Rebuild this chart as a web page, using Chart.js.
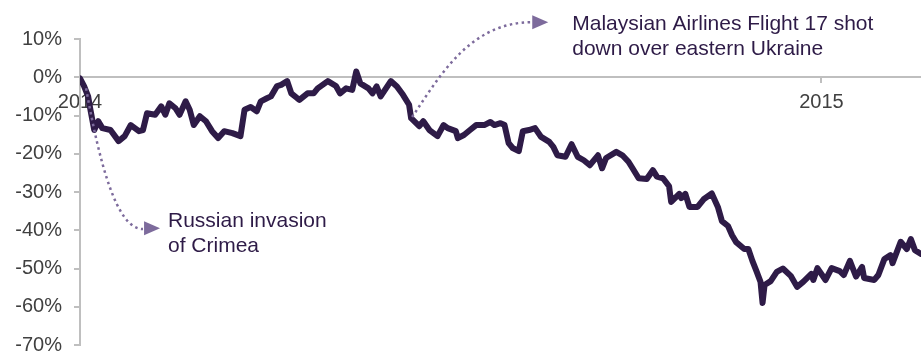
<!DOCTYPE html>
<html>
<head>
<meta charset="utf-8">
<script src="https://cdn.jsdelivr.net/npm/chart.js@4.4.1/dist/chart.umd.min.js"></script>
<style>
  html, body { margin: 0; padding: 0; background: #fff; }
  #wrap { width: 921px; height: 354px; }
</style>
</head>
<body>
<div id="wrap"><canvas id="chart1"></canvas></div>
<script>
'use strict';

// days since 1 Jan 2014, and change in %
const days = [0, 2, 4, 5, 7, 9, 11, 15, 19, 22, 25, 29, 31, 33, 37, 40, 42, 44, 47, 49,
  52, 54, 56, 59, 62, 65, 68, 71, 75, 79, 81, 84, 87, 89, 92, 94, 97, 99, 102, 104,
  107, 108, 112, 115, 117, 122, 126, 128, 131, 134, 136, 138, 142, 144, 146, 148, 153, 156, 159, 162,
  163, 167, 169, 172, 176, 179, 181, 185, 186, 189, 192, 195, 199, 202, 204, 207, 209, 211, 213, 216,
  218, 221, 224, 227, 231, 233, 235, 239, 242, 245, 248, 251, 255, 257, 259, 264, 267, 270, 272, 275,
  279, 282, 284, 287, 290, 291, 295, 296, 298, 300, 304, 307, 311, 314, 316, 319, 321, 323, 327, 329,
  331, 333, 335, 336, 337, 340, 343, 346, 350, 353, 356, 360, 361, 363, 367, 370, 374, 376, 379, 382,
  385, 386, 391, 393, 396, 399, 400, 404, 407, 409, 411, 414];
const change = [-0.3, -2.3, -5.0, -8.1, -13.8, -11.5, -13.3, -13.8, -16.7, -15.4, -12.5, -14.1, -13.8, -9.4, -9.8, -7.6, -9.8, -6.8, -8.1, -9.8,
  -6.3, -8.5, -12.5, -10.2, -11.5, -14.1, -15.9, -14.1, -14.6, -15.4, -8.5, -7.8, -8.9, -6.3, -5.5, -5.0, -2.3, -2.0, -1.0, -4.2,
  -5.5, -5.9, -4.2, -4.2, -2.9, -1.0, -2.3, -4.2, -2.9, -3.3, 1.5, -1.6, -2.9, -4.2, -2.4, -5.0, -1.0, -2.4, -4.6, -7.2,
  -10.7, -12.8, -11.5, -13.8, -15.4, -12.5, -13.3, -14.1, -15.9, -15.1, -13.8, -12.5, -12.5, -11.7, -12.5, -12.0, -12.5, -17.2, -18.5, -19.3,
  -14.1, -13.8, -13.3, -15.6, -16.9, -18.2, -20.4, -20.8, -17.5, -20.8, -21.7, -23.0, -20.4, -23.8, -21.1, -19.5, -20.4, -22.1, -23.8, -26.4,
  -26.6, -24.3, -26.0, -26.4, -28.5, -32.6, -30.5, -31.6, -30.5, -33.9, -33.9, -31.9, -30.4, -33.9, -37.6, -38.9, -41.3, -43.1, -44.9, -44.9,
  -48.0, -50.7, -53.5, -59.0, -54.3, -53.3, -50.9, -50.0, -52.0, -54.8, -53.5, -51.4, -53.0, -49.9, -53.0, -49.9, -50.7, -51.7, -48.0, -52.1,
  -49.6, -52.5, -53.0, -51.7, -47.5, -46.5, -48.6, -43.0, -44.9, -42.3, -45.2, -46.2];

const xTickValues = [0, 365];
const xTickLabels = ['2014', '2015'];

// annotation text and dotted arrows, in data units (day, %)
const notes = [
  { lines: ['Russian invasion', 'of Crimea'], at: [43.3, -39.2],
    curve: [[3.0, -2.9], [9.4, -21.7], [17.7, -39.7], [31.0, -39.7]], tip: [39.4, -39.5] },
  { lines: ['Malaysian Airlines Flight 17 shot', 'down over eastern Ukraine'], at: [242.3, 12.3],
    curve: [[163.5, -10.4], [177.3, 0.5], [192.1, 14.4], [222.6, 14.4]], tip: [230.5, 14.4] }
];

const lineColor = '#2e1b47';
const arrowColor = '#7d6b9c';
const axisColor = '#bfbfbf';
const fontFamily = '"Liberation Sans", Arial, sans-serif';

const annotationPlugin = {
  id: 'annotations',
  afterDatasetsDraw(chart) {
    const ctx = chart.ctx;
    const xs = chart.scales.x, ys = chart.scales.y;
    const px = p => [xs.getPixelForValue(p[0]), ys.getPixelForValue(p[1])];
    ctx.save();
    for (const n of notes) {
      const c = n.curve.map(px);
      ctx.strokeStyle = arrowColor;
      ctx.lineWidth = 2.5;
      ctx.setLineDash([2.5, 3.5]);
      ctx.beginPath();
      ctx.moveTo(c[0][0], c[0][1]);
      ctx.bezierCurveTo(c[1][0], c[1][1], c[2][0], c[2][1], c[3][0], c[3][1]);
      ctx.stroke();
      ctx.setLineDash([]);
      const t = px(n.tip);
      ctx.fillStyle = arrowColor;
      ctx.beginPath();
      ctx.moveTo(t[0], t[1]);
      ctx.lineTo(t[0] - 16, t[1] - 7);
      ctx.lineTo(t[0] - 16, t[1] + 7);
      ctx.closePath();
      ctx.fill();

      const a = px(n.at);
      ctx.fillStyle = lineColor;
      ctx.font = '21px ' + fontFamily;
      ctx.textAlign = 'left';
      ctx.textBaseline = 'alphabetic';
      n.lines.forEach((s, i) => ctx.fillText(s, a[0], a[1] + i * 25));
    }
    ctx.restore();
  }
};

let ctx1 = document.getElementById('chart1').getContext('2d');

new Chart(ctx1, {
  type: 'line',
  data: {
    datasets: [{
      data: days.map((d, i) => ({ x: d, y: change[i] })),
      borderColor: lineColor,
      borderWidth: 6,
      borderJoinStyle: 'round',
      borderCapStyle: 'round',
      pointRadius: 0,
      tension: 0,
      fill: false
    }]
  },
  options: {
    responsive: true,
    maintainAspectRatio: false,
    animation: false,
    events: [],
    layout: { padding: { top: 39, bottom: 9, left: 0, right: 0 } },
    plugins: { legend: { display: false }, tooltip: { enabled: false } },
    scales: {
      x: {
        type: 'linear',
        position: { y: 0 },
        min: 0,
        max: 414,
        afterBuildTicks: s => { s.ticks = xTickValues.map(v => ({ value: v })); },
        ticks: {
          callback: v => xTickLabels[xTickValues.indexOf(v)],
          color: '#404040',
          font: { family: fontFamily, size: 20 },
          padding: 8,
          maxRotation: 0,
          autoSkip: false
        },
        grid: { drawOnChartArea: false, drawTicks: true, tickLength: 5, color: axisColor, lineWidth: 2 },
        border: { display: true, color: axisColor, width: 2 }
      },
      y: {
        min: -70,
        max: 10,
        afterFit: s => { s.width = 80; s.paddingTop = 0; s.paddingBottom = 0; },
        ticks: {
          stepSize: 10,
          callback: v => v + '%',
          color: '#404040',
          font: { family: fontFamily, size: 20 },
          padding: 12
        },
        grid: { drawOnChartArea: false, drawTicks: true, tickLength: 6, color: axisColor, lineWidth: 2 },
        border: { display: true, color: axisColor, width: 2 }
      }
    }
  },
  plugins: [annotationPlugin]
});
</script>
</body>
</html>
